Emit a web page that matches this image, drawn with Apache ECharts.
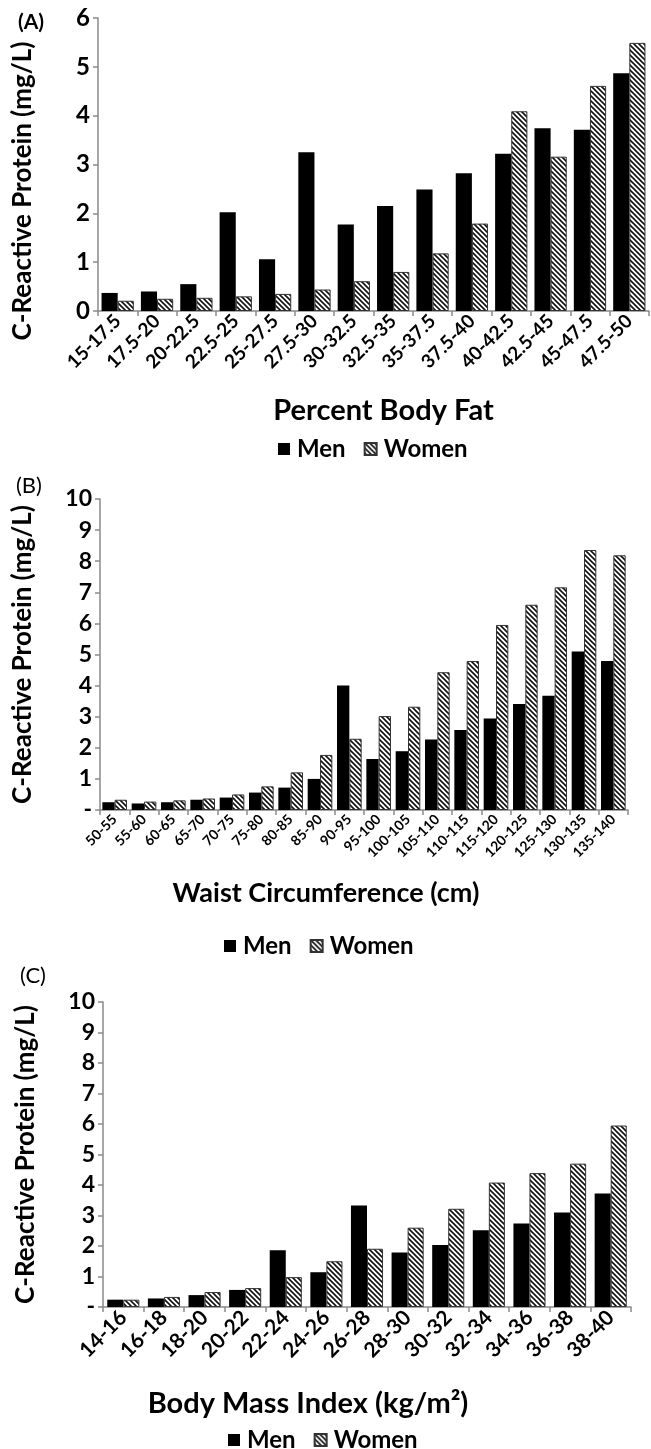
<!DOCTYPE html>
<html>
<head>
<meta charset="utf-8">
<script src="https://cdn.jsdelivr.net/npm/echarts@6/dist/echarts.min.js"></script>
<style>
html,body{margin:0;padding:0;background:#fff;}
#chart{width:651px;height:1449px;}
</style>
</head>
<body>
<div id="chart"></div>
<script>
// ---------- DATA ----------
const catsA = ['15-17.5','17.5-20','20-22.5','22.5-25','25-27.5','27.5-30','30-32.5','32.5-35','35-37.5','37.5-40','40-42.5','42.5-45','45-47.5','47.5-50'];
const menA   = [0.37,0.40,0.55,2.02,1.06,3.25,1.77,2.15,2.49,2.82,3.22,3.74,3.71,4.87];
const womenA = [0.21,0.25,0.27,0.30,0.35,0.44,0.61,0.80,1.18,1.79,4.09,3.16,4.61,5.49];

const catsB = ['50-55','55-60','60-65','65-70','70-75','75-80','80-85','85-90','90-95','95-100','100-105','105-110','110-115','115-120','120-125','125-130','130-135','135-140'];
const menB   = [0.25,0.21,0.25,0.33,0.40,0.56,0.72,1.00,4.00,1.64,1.89,2.27,2.57,2.94,3.41,3.67,5.10,4.79];
const womenB = [0.33,0.27,0.31,0.37,0.50,0.76,1.21,1.77,2.29,3.02,3.32,4.43,4.79,5.95,6.60,7.16,8.36,8.19];

const catsC = ['14-16','16-18','18-20','20-22','22-24','24-26','26-28','28-30','30-32','32-34','34-36','36-38','38-40'];
const menC   = [0.24,0.28,0.39,0.56,1.86,1.14,3.33,1.79,2.03,2.52,2.74,3.10,3.72];
const womenC = [0.24,0.33,0.49,0.62,0.98,1.50,1.91,2.60,3.22,4.08,4.39,4.70,5.95];

const seriesNames = ['Men','Women'];
const yNameText = 'C-Reactive Protein (mg/L)';
const xNames = ['Percent Body Fat','Waist Circumference (cm)','Body Mass Index (kg/m\u00B2)'];
const panelLabels = ['(A)','(B)','(C)'];

// ---------- STYLE ----------
const FONT = 'Lato, "Open Sans", sans-serif';
function makeHatch(){
  const s = 5;
  const c = document.createElement('canvas');
  c.width = s; c.height = s;
  const ctx = c.getContext('2d');
  ctx.fillStyle = '#fff'; ctx.fillRect(0,0,s,s);
  ctx.strokeStyle = '#111'; ctx.lineWidth = 1.6;
  ctx.beginPath();
  ctx.moveTo(-1,-1); ctx.lineTo(s+1,s+1);
  ctx.moveTo(-1,s-1); ctx.lineTo(1,s+1);
  ctx.moveTo(s-1,-1); ctx.lineTo(s+1,1);
  ctx.stroke();
  return c;
}
const hatch = {image: makeHatch(), repeat: 'repeat'};

const axisGray = '#8a8a8a';

function xAxisDef(i, cats, fontSize, nameGap, nameSize, namePad){
  return {
    type:'category', gridIndex:i, data:cats,
    axisLine:{show:true, lineStyle:{color:axisGray, width:1.5}},
    axisTick:{show:true, length:5, lineStyle:{color:axisGray, width:1.5}},
    axisLabel:{rotate:45, margin:7, fontSize:fontSize, fontWeight:'bold', color:'#000', fontFamily:FONT, interval:0},
    name: xNames[i], nameLocation:'middle', nameGap:nameGap,
    nameTextStyle:{fontSize:nameSize, fontWeight:'bold', color:'#000', fontFamily:FONT, padding:namePad}
  };
}
function yAxisDef(i, max, zeroDash, showName, fs){
  return {
    type:'value', gridIndex:i, min:0, max:max, interval:1,
    splitLine:{show:false},
    axisLine:{show:true, lineStyle:{color:axisGray, width:1.5}},
    axisTick:{show:true, length:5, lineStyle:{color:axisGray, width:1.5}},
    axisLabel:{fontSize:fs, fontWeight:'bold', color:'#000', fontFamily:FONT, margin:8,
      formatter: v => (zeroDash && v === 0) ? '-' : String(v)},
    name: showName ? yNameText : '', nameLocation:'middle', nameGap:64,
    nameTextStyle:{fontSize:26, fontWeight:'bold', color:'#000', fontFamily:FONT}
  };
}
function barPair(i, men, women, gap){
  return [
    {name:seriesNames[0], type:'bar', xAxisIndex:i, yAxisIndex:i, data:men,
     barGap:'0%', barCategoryGap:gap, itemStyle:{color:'#000'}, animation:false},
    {name:seriesNames[1], type:'bar', xAxisIndex:i, yAxisIndex:i, data:women,
     barGap:'0%', barCategoryGap:gap, itemStyle:{color:hatch, borderColor:'#333', borderWidth:1}, animation:false}
  ];
}
function legendDef(left, top){
  return {
    left:left, top:top, orient:'horizontal', icon:'rect', itemWidth:12, itemHeight:12, itemGap:18,
    selectedMode:false, data:seriesNames,
    textStyle:{fontSize:24, fontWeight:'bold', color:'#000', fontFamily:FONT, padding:[0,0,0,2]}
  };
}

const option = {
  backgroundColor:'#fff',
  animation:false,
  title:[
    {text:panelLabels[0], left:13, top:7, textStyle:{fontSize:21, fontWeight:'bold', color:'#000', fontFamily:FONT}},
    {text:panelLabels[1], left:11, top:470, textStyle:{fontSize:22, fontWeight:'normal', color:'#000', fontFamily:FONT}},
    {text:panelLabels[2], left:15, top:960, textStyle:{fontSize:22, fontWeight:'normal', color:'#000', fontFamily:FONT}}
  ],
  graphic:[
    {type:'text', x:23, y:191, rotation:Math.PI/2,
     style:{text:yNameText, align:'center', verticalAlign:'middle', fill:'#000',
            font:'bold 26px ' + FONT}}
  ],
  grid:[
    {left:98, top:18, width:551, height:293, outerBoundsMode:'none'},
    {left:100, top:499, width:528, height:311, outerBoundsMode:'none'},
    {left:103, top:1002, width:528, height:305, outerBoundsMode:'none'}
  ],
  xAxis:[
    xAxisDef(0, catsA, 19, 85, 29, [0,0,0,20]),
    xAxisDef(1, catsB, 14, 70, 27, [0,76,0,0]),
    xAxisDef(2, catsC, 21, 82, 29, [0,118,0,0])
  ],
  yAxis:[
    yAxisDef(0, 6, false, false, 24),
    yAxisDef(1, 10, true, true, 23),
    yAxisDef(2, 10, true, true, 23)
  ],
  legend:[
    legendDef(273, 432),
    legendDef(219, 929),
    legendDef(223, 1423)
  ],
  series:[].concat(
    barPair(0, menA, womenA, '18%'),
    barPair(1, menB, womenB, '16%'),
    barPair(2, menC, womenC, '21%')
  )
};

const chart = echarts.init(document.getElementById('chart'), null, {renderer:'canvas'});
chart.setOption(option);
</script>
</body>
</html>
